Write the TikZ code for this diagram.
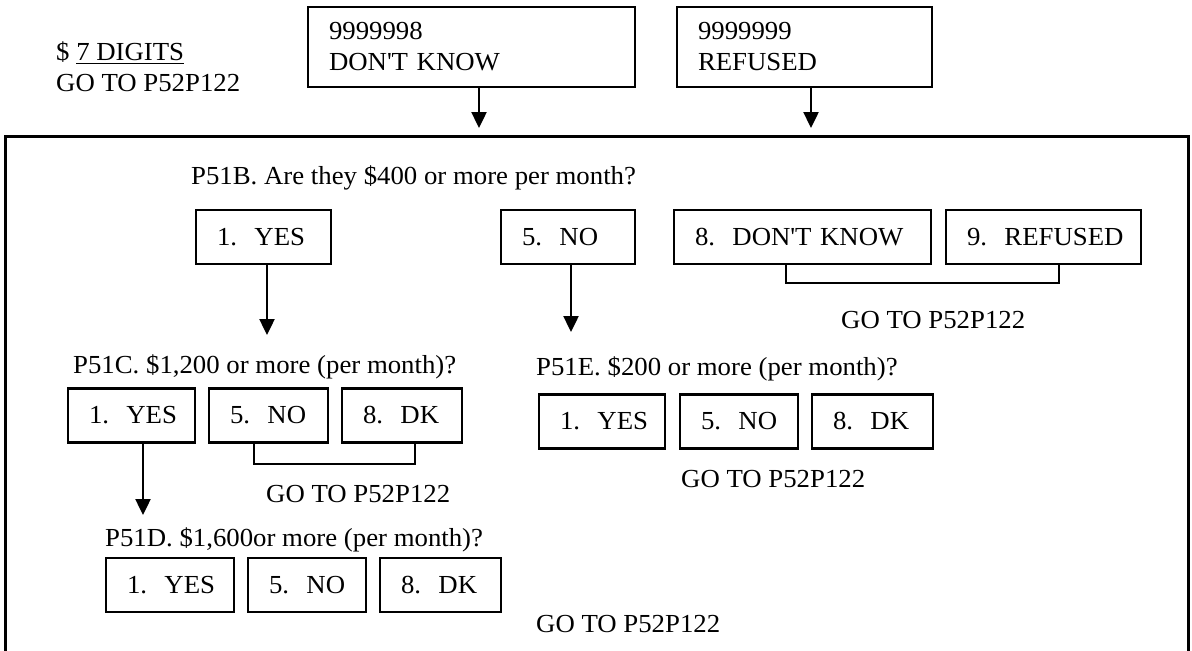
\documentclass[tikz,border=0pt]{standalone}
\usepackage{fontspec}
\setmainfont{Liberation Serif}[FakeStretch=1.03]
\usetikzlibrary{arrows.meta}

\begin{document}
\begin{tikzpicture}[x=0.5pt, y=-0.5pt, line width=1.2pt, >={Triangle[width=7.5pt,length=8pt]},
    font=\fontsize{13}{15.5}\selectfont]
    \tikzset{casella/.style={draw, inner xsep=10.5pt, inner ysep=0pt, minimum height=27pt, align=left},
             testo/.style={anchor=base west, inner sep=0pt}}
    \useasboundingbox (0,0) rectangle (1192,650);

    % riquadro grande, aperto in basso
    \draw[line width=1.5pt] (5,660) -- (5,136) -- (1188,136) -- (1188,660);

    \node[testo] (sette) at (55,60) {\$ \underline{7 DIGITS}};
    \node[testo] (vai0) at (55,91) {GO TO P52P122};
    \node[casella, text width=142.5pt, minimum height=40pt] (nonso) at (471.5,47) {9999998\\DON\textquotesingle T KNOW};
    \node[casella, text width=106.5pt, minimum height=40pt] (rifiuto) at (804.5,47) {9999999\\REFUSED};

    \coordinate (f1) at (479,128);
    \coordinate (f2) at (811,128);
    \draw[->] (nonso.south -| f1) -- (f1);
    \draw[->] (rifiuto.south -| f2) -- (f2);

    % P51B
    \node[testo] (q51b) at (190,184) {P51B. Are they \$400 or more per month?};
    \node[casella, text width=46.5pt] (si1) at (263.5,237) {1.~~YES};
    \node[casella, text width=46pt] (no1) at (568,237) {5.~~NO};
    \node[casella, text width=107.5pt] (dk1) at (802.5,237) {\mbox{8.~~DON\textquotesingle T KNOW}};
    \node[casella, text width=76.5pt] (rf1) at (1043.5,237) {\mbox{9.~~REFUSED}};
    \coordinate (b1) at (786,283);
    \coordinate (b2) at (1059,283);
    \draw (dk1.south -| b1) -- (b1) -- (b2) -- (rf1.south -| b2);
    \node[testo] (vai1) at (840,328) {GO TO P52P122};

    \coordinate (a1) at (267,335);
    \coordinate (a2) at (571,332);
    \draw[->] (si1.south -| a1) -- (a1);
    \draw[->] (no1.south -| a2) -- (a2);

    % P51C
    \node[testo] (q51c) at (72,373) {P51C. \$1,200 or more (per month)?};
    \node[casella, text width=42.5pt] (si2) at (131.5,415.5) {1.~~YES};
    \node[casella, text width=38.5pt] (no2) at (268.5,415.5) {5.~~NO};
    \node[casella, text width=39pt] (dk2) at (402,415.5) {8.~~DK};
    \coordinate (b3) at (254,464);
    \coordinate (b4) at (415,464);
    \draw (no2.south -| b3) -- (b3) -- (b4) -- (dk2.south -| b4);
    \node[testo] (vai2) at (265,502) {GO TO P52P122};

    \coordinate (a3) at (143,515);
    \draw[->] (si2.south -| a3) -- (a3);

    % P51D
    \node[testo] (q51d) at (104,546) {P51D. \$1,600or more (per month)?};
    \node[casella, text width=43pt] (si3) at (170,585) {1.~~YES};
    \node[casella, text width=38pt] (no3) at (307,585) {5.~~NO};
    \node[casella, text width=39.5pt] (dk3) at (440.5,585) {8.~~DK};
    \node[testo] (vai3) at (535,632) {GO TO P52P122};

    % P51E
    \node[testo] (q51e) at (535,375) {P51E. \$200 or more (per month)?};
    \node[casella, text width=42pt] (si4) at (602,421.5) {1.~~YES};
    \node[casella, text width=38pt] (no4) at (739,421.5) {5.~~NO};
    \node[casella, text width=39.5pt] (dk4) at (872.5,421.5) {8.~~DK};
    \node[testo] (vai4) at (680,487) {GO TO P52P122};
\end{tikzpicture}
\end{document}
